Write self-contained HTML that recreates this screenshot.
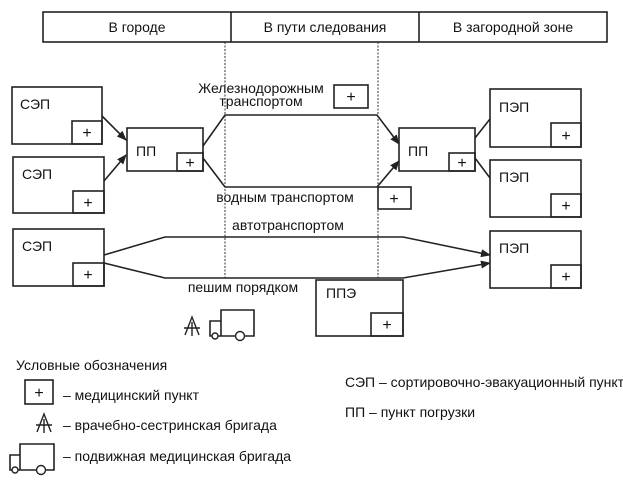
<!DOCTYPE html>
<html><head><meta charset="utf-8"><style>
body{margin:0;background:#fff}
svg text{font-family:"Liberation Sans",sans-serif;font-size:14px;fill:#111}
</style></head><body>
<svg width="623" height="485" viewBox="0 0 623 485" xmlns="http://www.w3.org/2000/svg">
<defs><marker id="a" markerWidth="10" markerHeight="8" refX="9" refY="4" orient="auto" markerUnits="userSpaceOnUse"><path d="M0,0 L10,4 L0,8 Z" fill="#222"/></marker></defs>
<g fill="none" stroke="#222" stroke-width="1.6">
<rect x="43" y="12" width="564" height="30"/>
<line x1="231" y1="12" x2="231" y2="42"/><line x1="419" y1="12" x2="419" y2="42"/>
</g>
<g stroke="#333" stroke-width="1" stroke-dasharray="2,1.5"><line x1="225" y1="42" x2="225" y2="280"/><line x1="378" y1="42" x2="378" y2="280"/></g>
<text x="137" y="32" text-anchor="middle">В городе</text>
<text x="325" y="32" text-anchor="middle">В пути следования</text>
<text x="513" y="32" text-anchor="middle">В загородной зоне</text>
<g fill="none" stroke="#222" stroke-width="1.6">
<rect x="12" y="87" width="90" height="57"/><rect x="72" y="121" width="30" height="23"/>
<rect x="13" y="157" width="91" height="56"/><rect x="73" y="191" width="31" height="22"/>
<rect x="13" y="229" width="91" height="57"/><rect x="73" y="263" width="31" height="23"/>
<rect x="127" y="128" width="76" height="43"/><rect x="177" y="153" width="26" height="18"/>
<rect x="399" y="128" width="76" height="43"/><rect x="449" y="153" width="26" height="18"/>
<rect x="490" y="89" width="91" height="58"/><rect x="551" y="123" width="30" height="24"/>
<rect x="490" y="160" width="91" height="57"/><rect x="551" y="194" width="30" height="23"/>
<rect x="490" y="231" width="91" height="57"/><rect x="551" y="265" width="30" height="23"/>
<rect x="316" y="280" width="87" height="56"/><rect x="371" y="313" width="32" height="23"/>
<rect x="334" y="85" width="34" height="23"/><rect x="378" y="187" width="33" height="22"/>
<line x1="102" y1="116" x2="126" y2="140" marker-end="url(#a)"/>
<line x1="104" y1="181" x2="126" y2="155" marker-end="url(#a)"/>
<polyline points="203,146 225,115 377,115 399,144" marker-end="url(#a)"/>
<polyline points="203,158 225,187 377,187 399,161" marker-end="url(#a)"/>
<line x1="475" y1="138" x2="490" y2="119"/><line x1="475" y1="158" x2="490" y2="178"/>
<polyline points="104,255 165,237 403,237 490,255" marker-end="url(#a)"/>
<polyline points="104,263 165,278 403,278 490,263" marker-end="url(#a)"/>
<rect x="25" y="380" width="28" height="24"/>
<path d="M221,310 H254 V336 H221 Z M210,321 H221 V336 H210 Z" />
<path d="M20,444 H54 V470 H20 Z M10,455 H20 V470 H10 Z"/>
</g>
<g fill="#fff" stroke="#222" stroke-width="1.4"><circle cx="215" cy="336" r="3"/><circle cx="240" cy="336" r="4.5"/><circle cx="15" cy="470" r="3"/><circle cx="41" cy="470" r="4.5"/></g>
<g fill="none" stroke="#222" stroke-width="1.4"><path d="M185,335 L192,317 L199,335 M184,328 H200 M192,322 V336"/><path d="M37,432 L44,414 L51,432 M36,425 H52 M44,419 V433"/></g>
<g text-anchor="middle">
<text x="87" y="138" style="font-size:16px">+</text><text x="88" y="208" style="font-size:16px">+</text><text x="88" y="280" style="font-size:16px">+</text>
<text x="190" y="168" style="font-size:16px">+</text><text x="462" y="168" style="font-size:16px">+</text>
<text x="566" y="141" style="font-size:16px">+</text><text x="566" y="211" style="font-size:16px">+</text><text x="566" y="282" style="font-size:16px">+</text>
<text x="387" y="330" style="font-size:16px">+</text><text x="351" y="102" style="font-size:16px">+</text><text x="394" y="204" style="font-size:16px">+</text>
<text x="39" y="398" style="font-size:16px">+</text>
</g>
<text x="20" y="109">СЭП</text><text x="22" y="179">СЭП</text><text x="22" y="251">СЭП</text>
<text x="136" y="156">ПП</text><text x="408" y="156">ПП</text>
<text x="499" y="112">ПЭП</text><text x="499" y="182">ПЭП</text><text x="499" y="253">ПЭП</text>
<text x="326" y="298">ППЭ</text>
<text x="261" y="93" text-anchor="middle">Железнодорожным</text>
<text x="261" y="106" text-anchor="middle">транспортом</text>
<text x="285" y="202" text-anchor="middle">водным транспортом</text>
<text x="288" y="230" text-anchor="middle">автотранспортом</text>
<text x="243" y="292" text-anchor="middle">пешим порядком</text>
<text x="16" y="370">Условные обозначения</text>
<text x="63" y="400">– медицинский пункт</text>
<text x="63" y="430">– врачебно-сестринская бригада</text>
<text x="63" y="461">– подвижная медицинская бригада</text>
<text x="345" y="387">СЭП – сортировочно-эвакуационный пункт</text>
<text x="345" y="417">ПП – пункт погрузки</text>
</svg>
</body></html>
